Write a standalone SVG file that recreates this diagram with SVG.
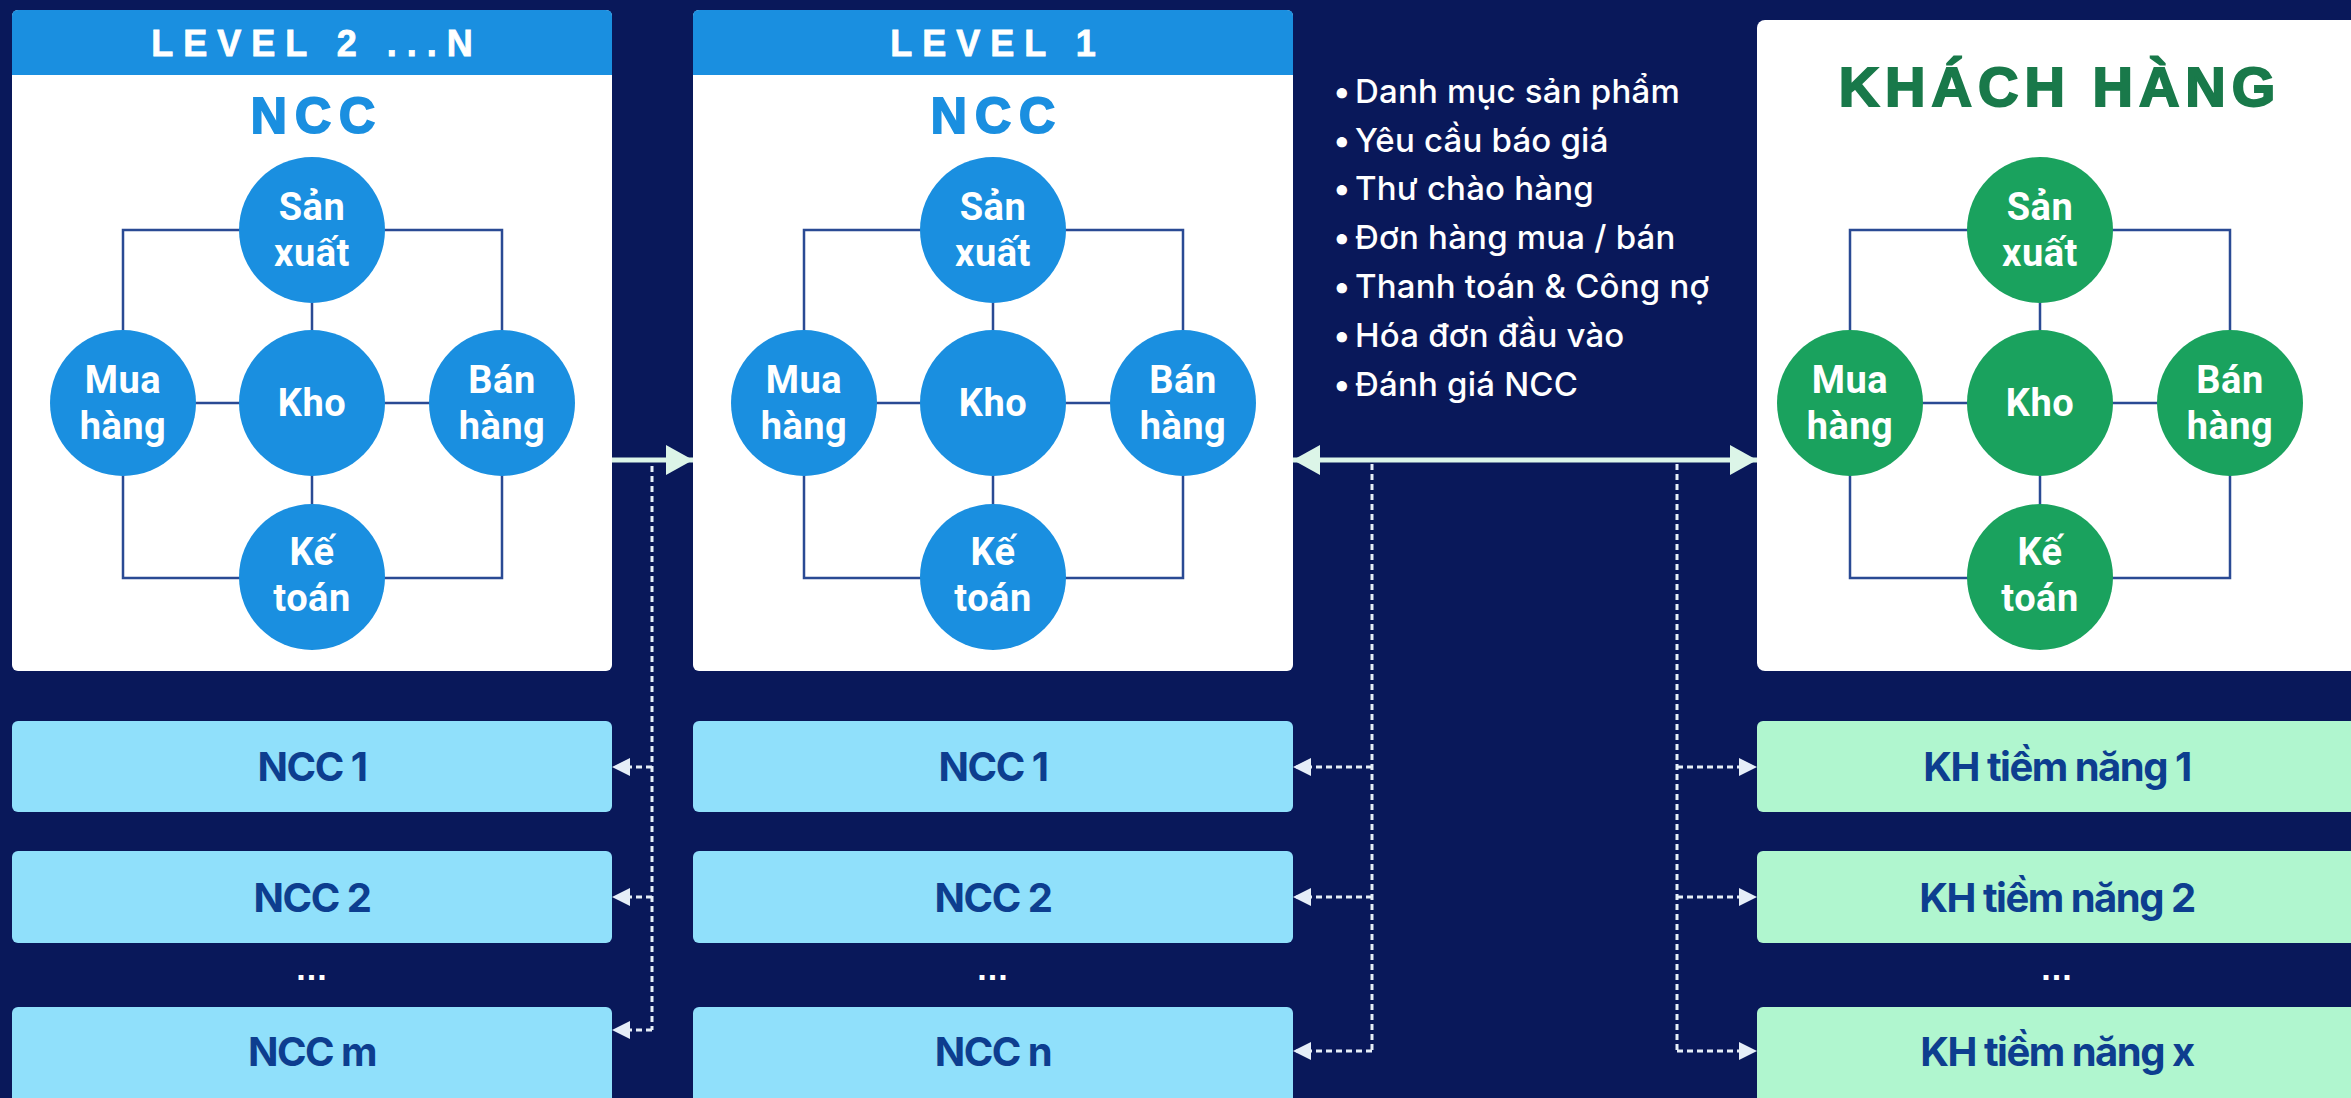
<svg xmlns="http://www.w3.org/2000/svg" width="2351" height="1098" viewBox="0 0 2351 1098">
<defs>
<style>
.bg{fill:#09185a}
.panel{fill:#ffffff}
.hdr{fill:#1a8fe0}
.hdrtxt{font-family:"Liberation Sans",Arial,sans-serif;font-weight:bold;font-size:36px;letter-spacing:10px;fill:#ffffff;stroke:#ffffff;stroke-width:0.8;text-anchor:middle}
.title{font-family:"Liberation Sans",Arial,sans-serif;font-weight:bold;font-size:50px;letter-spacing:8px;fill:#1a8fe0;stroke:#1a8fe0;stroke-width:2;text-anchor:middle}
.khtitle{font-family:"Liberation Sans",Arial,sans-serif;font-weight:bold;font-size:56px;letter-spacing:6px;fill:#19794a;stroke:#19794a;stroke-width:2;text-anchor:middle}
.grid{fill:none;stroke:#2a4a94;stroke-width:2.5}
.cb{fill:#1a8fe0}
.cg{fill:#1aa25e}
.ct{font-family:Roboto,"Liberation Sans",sans-serif;font-weight:bold;font-size:38px;letter-spacing:0.5px;fill:#ffffff;text-anchor:middle}
.sb{fill:#90e0fb}
.sg{fill:#b0f6cf}
.st{font-family:Inter,"Liberation Sans",sans-serif;font-weight:bold;font-size:40px;letter-spacing:-1.5px;fill:#0d3e8f;text-anchor:middle}
.dots{font-family:"Liberation Sans",sans-serif;font-weight:bold;font-size:34px;letter-spacing:1px;fill:#ffffff;text-anchor:middle}
.bul{font-family:Inter,"Liberation Sans",sans-serif;font-weight:500;font-size:33px;letter-spacing:0.2px;fill:#ffffff}
.solid{fill:none;stroke:#dcf5e8;stroke-width:5}
.dash{fill:none;stroke:#e6eef8;stroke-width:3;stroke-dasharray:6 4}
</style>
<marker id="ah" viewBox="0 0 27 30" refX="27" refY="15" markerWidth="27" markerHeight="30" markerUnits="userSpaceOnUse" orient="auto-start-reverse">
<path d="M0,0 L27,15 L0,30 Z" fill="#dcf5e8"/>
</marker>
<marker id="sh" viewBox="0 0 18 18" refX="18" refY="9" markerWidth="18" markerHeight="18" markerUnits="userSpaceOnUse" orient="auto">
<path d="M0,0 L18,9 L0,18 Z" fill="#e6eef8"/>
</marker>
</defs>
<rect class="bg" x="0" y="0" width="2351" height="1098"/>

<!-- Level 2..N panel -->
<g id="level2">
<rect class="panel" x="12" y="10" width="600" height="661" rx="6"/>
<path class="hdr" d="M12,75 V16 Q12,10 18,10 H606 Q612,10 612,16 V75 Z"/>
<text class="hdrtxt" x="317" y="56">LEVEL 2 ...N</text>
<text class="title" x="317" y="133">NCC</text>
<path class="grid" d="M123,230 H502 V578 H123 Z M312,230 V578 M123,403 H502"/>
<g id="l2-sx"><circle class="cb" cx="312" cy="230" r="73"/><text class="ct"><tspan x="312" y="220">Sản</tspan><tspan x="312" y="266">xuất</tspan></text></g>
<g id="l2-mh"><circle class="cb" cx="123" cy="403" r="73"/><text class="ct"><tspan x="123" y="393">Mua</tspan><tspan x="123" y="439">hàng</tspan></text></g>
<g id="l2-kho"><circle class="cb" cx="312" cy="403" r="73"/><text class="ct" x="312" y="416">Kho</text></g>
<g id="l2-bh"><circle class="cb" cx="502" cy="403" r="73"/><text class="ct"><tspan x="502" y="393">Bán</tspan><tspan x="502" y="439">hàng</tspan></text></g>
<g id="l2-kt"><circle class="cb" cx="312" cy="577" r="73"/><text class="ct"><tspan x="312" y="565">Kế</tspan><tspan x="312" y="611">toán</tspan></text></g>
</g>

<!-- Level 1 panel -->
<g id="level1">
<rect class="panel" x="693" y="10" width="600" height="661" rx="6"/>
<path class="hdr" d="M693,75 V16 Q693,10 699,10 H1287 Q1293,10 1293,16 V75 Z"/>
<text class="hdrtxt" x="998" y="56">LEVEL 1</text>
<text class="title" x="997" y="133">NCC</text>
<path class="grid" d="M804,230 H1183 V578 H804 Z M993,230 V578 M804,403 H1183"/>
<g id="l1-sx"><circle class="cb" cx="993" cy="230" r="73"/><text class="ct"><tspan x="993" y="220">Sản</tspan><tspan x="993" y="266">xuất</tspan></text></g>
<g id="l1-mh"><circle class="cb" cx="804" cy="403" r="73"/><text class="ct"><tspan x="804" y="393">Mua</tspan><tspan x="804" y="439">hàng</tspan></text></g>
<g id="l1-kho"><circle class="cb" cx="993" cy="403" r="73"/><text class="ct" x="993" y="416">Kho</text></g>
<g id="l1-bh"><circle class="cb" cx="1183" cy="403" r="73"/><text class="ct"><tspan x="1183" y="393">Bán</tspan><tspan x="1183" y="439">hàng</tspan></text></g>
<g id="l1-kt"><circle class="cb" cx="993" cy="577" r="73"/><text class="ct"><tspan x="993" y="565">Kế</tspan><tspan x="993" y="611">toán</tspan></text></g>
</g>

<!-- Khach hang panel -->
<g id="khachhang">
<rect class="panel" x="1757" y="20" width="620" height="651" rx="8"/>
<text class="khtitle" x="2060" y="106">KHÁCH HÀNG</text>
<path class="grid" d="M1850,230 H2230 V578 H1850 Z M2040,230 V578 M1850,403 H2230"/>
<g id="kh-sx"><circle class="cg" cx="2040" cy="230" r="73"/><text class="ct"><tspan x="2040" y="220">Sản</tspan><tspan x="2040" y="266">xuất</tspan></text></g>
<g id="kh-mh"><circle class="cg" cx="1850" cy="403" r="73"/><text class="ct"><tspan x="1850" y="393">Mua</tspan><tspan x="1850" y="439">hàng</tspan></text></g>
<g id="kh-kho"><circle class="cg" cx="2040" cy="403" r="73"/><text class="ct" x="2040" y="416">Kho</text></g>
<g id="kh-bh"><circle class="cg" cx="2230" cy="403" r="73"/><text class="ct"><tspan x="2230" y="393">Bán</tspan><tspan x="2230" y="439">hàng</tspan></text></g>
<g id="kh-kt"><circle class="cg" cx="2040" cy="577" r="73"/><text class="ct"><tspan x="2040" y="565">Kế</tspan><tspan x="2040" y="611">toán</tspan></text></g>
</g>

<!-- Info list -->
<g id="info">
<text class="bul"><tspan x="1333" y="103">•</tspan><tspan x="1355" y="103">Danh mục sản phẩm</tspan></text>
<text class="bul"><tspan x="1333" y="152">•</tspan><tspan x="1355" y="152">Yêu cầu báo giá</tspan></text>
<text class="bul"><tspan x="1333" y="200">•</tspan><tspan x="1355" y="200">Thư chào hàng</tspan></text>
<text class="bul"><tspan x="1333" y="249">•</tspan><tspan x="1355" y="249">Đơn hàng mua / bán</tspan></text>
<text class="bul"><tspan x="1333" y="298">•</tspan><tspan x="1355" y="298">Thanh toán &amp; Công nợ</tspan></text>
<text class="bul"><tspan x="1333" y="347">•</tspan><tspan x="1355" y="347">Hóa đơn đầu vào</tspan></text>
<text class="bul"><tspan x="1333" y="396">•</tspan><tspan x="1355" y="396">Đánh giá NCC</tspan></text>
</g>

<!-- Sub boxes -->
<g id="l2-ncc1"><rect class="sb" x="12" y="721" width="600" height="91" rx="6"/><text class="st" x="312" y="781">NCC 1</text></g>
<g id="l2-ncc2"><rect class="sb" x="12" y="851" width="600" height="92" rx="6"/><text class="st" x="312" y="912">NCC 2</text></g>
<text class="dots" x="312" y="980">...</text>
<g id="l2-nccm"><rect class="sb" x="12" y="1007" width="600" height="100" rx="6"/><text class="st" x="312" y="1066">NCC m</text></g>

<g id="l1-ncc1"><rect class="sb" x="693" y="721" width="600" height="91" rx="6"/><text class="st" x="993" y="781">NCC 1</text></g>
<g id="l1-ncc2"><rect class="sb" x="693" y="851" width="600" height="92" rx="6"/><text class="st" x="993" y="912">NCC 2</text></g>
<text class="dots" x="993" y="980">...</text>
<g id="l1-nccn"><rect class="sb" x="693" y="1007" width="600" height="100" rx="6"/><text class="st" x="993" y="1066">NCC n</text></g>

<g id="kh1"><rect class="sg" x="1757" y="721" width="620" height="91" rx="6"/><text class="st" x="2057" y="781">KH tiềm năng 1</text></g>
<g id="kh2"><rect class="sg" x="1757" y="851" width="620" height="92" rx="6"/><text class="st" x="2057" y="912">KH tiềm năng 2</text></g>
<text class="dots" x="2057" y="980">...</text>
<g id="khx"><rect class="sg" x="1757" y="1007" width="620" height="100" rx="6"/><text class="st" x="2057" y="1066">KH tiềm năng x</text></g>

<!-- Connectors -->
<g id="connectors">
<line class="solid" x1="612" y1="460" x2="693" y2="460" marker-end="url(#ah)"/>
<line class="solid" x1="1293" y1="460" x2="1757" y2="460" marker-start="url(#ah)" marker-end="url(#ah)"/>
<path class="dash" d="M652,466 V1030"/>
<path class="dash" d="M652,767 H612" marker-end="url(#sh)"/>
<path class="dash" d="M652,897 H612" marker-end="url(#sh)"/>
<path class="dash" d="M652,1030 H612" marker-end="url(#sh)"/>
<path class="dash" d="M1372,464 V1051"/>
<path class="dash" d="M1372,767 H1293" marker-end="url(#sh)"/>
<path class="dash" d="M1372,897 H1293" marker-end="url(#sh)"/>
<path class="dash" d="M1372,1051 H1293" marker-end="url(#sh)"/>
<path class="dash" d="M1677,464 V1051"/>
<path class="dash" d="M1677,767 H1757" marker-end="url(#sh)"/>
<path class="dash" d="M1677,897 H1757" marker-end="url(#sh)"/>
<path class="dash" d="M1677,1051 H1757" marker-end="url(#sh)"/>
</g>
</svg>
